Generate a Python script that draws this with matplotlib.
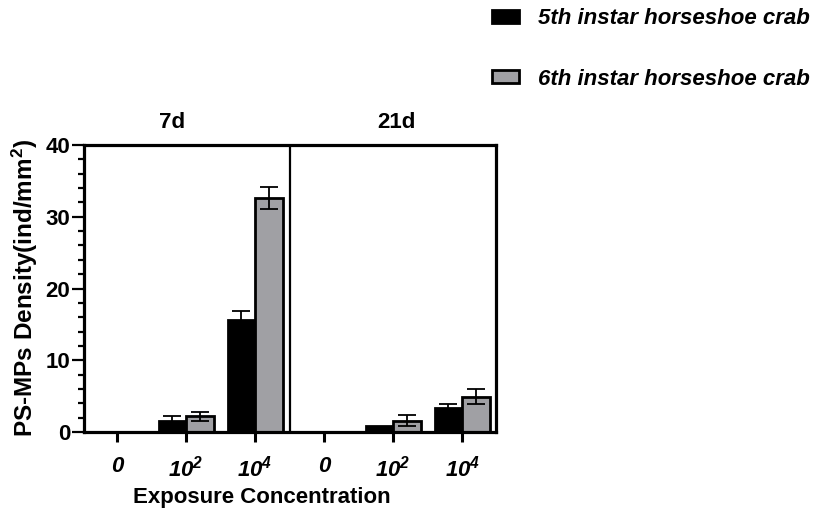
import matplotlib.pyplot as plt
import matplotlib.patches as mpatches
from matplotlib.ticker import MultipleLocator
import numpy as np

plt.rcParams['font.family'] = 'Liberation Sans'
plt.rcParams['mathtext.fontset'] = 'custom'
plt.rcParams['mathtext.rm'] = 'Liberation Sans:bold:italic'
plt.rcParams['mathtext.bf'] = 'Liberation Sans:bold'
plt.rcParams['mathtext.default'] = 'rm'

# data
days = ['7d', '21d']
conc_labels = ['0', r'$10^{2}$', r'$10^{4}$']
series_names = ['5th instar horseshoe crab', '6th instar horseshoe crab']
fifth_mean = [0, 1.6, 15.6, 0, 0.9, 3.3]
fifth_err = [0, 0.65, 1.2, 0, 0, 0.6]
sixth_mean = [0, 2.2, 32.6, 0, 1.6, 4.9]
sixth_err = [0, 0.65, 1.5, 0, 0.7, 1.05]

colors = ['#000000', '#a0a0a4']

fig = plt.figure(figsize=(8.27, 5.21), dpi=100)
ax = fig.add_axes([84 / 827, 1 - 432 / 521, 412 / 827, 287 / 521])

x = np.arange(len(fifth_mean))
w = 0.4
for i, (means, errs) in enumerate([(fifth_mean, fifth_err), (sixth_mean, sixth_err)]):
    xs = x + (i - 0.5) * w
    ax.bar(xs, means, width=w, color=colors[i], edgecolor='black', linewidth=2.0,
           zorder=2)
    errs = np.array(errs)
    mask = errs > 0
    ax.errorbar(xs[mask], np.array(means)[mask], yerr=errs[mask], fmt='none',
                ecolor='black', elinewidth=1.3, capsize=6.5, capthick=1.3, zorder=3)

ax.axvline(2.5, color='black', linewidth=1.6, zorder=1)

ax.set_xlim(-0.48, 5.49)
ax.set_ylim(0, 40)
ax.yaxis.set_major_locator(MultipleLocator(10))
ax.yaxis.set_minor_locator(MultipleLocator(2))
ax.set_xticks(x)
ax.set_xticklabels(conc_labels * 2, fontsize=16, fontweight='bold', fontstyle='italic')
for lab in ax.get_yticklabels():
    lab.set_fontsize(16)
    lab.set_fontweight('bold')
ax.tick_params(axis='y', which='major', length=9, width=1.6, pad=1)
ax.tick_params(axis='y', which='minor', length=4.5, width=1.6)
ax.tick_params(axis='x', which='major', length=7, width=2.2, pad=10)
for sp in ax.spines.values():
    sp.set_linewidth(2.3)

fig.text(25 / 827, 1 - 288 / 521, r'PS-MPs Density(ind/mm$^{\mathbf{2}}$)', rotation=90,
         ha='center', va='center', fontsize=17.5, fontweight='bold')

for xpos, d in zip([0.8, 4.05], days):
    ax.text(xpos, 43.2, d, ha='center', va='center', fontsize=16, fontweight='bold')

fig.text(262 / 827, 1 - 497 / 521, 'Exposure Concentration', ha='center', va='center',
         fontsize=16, fontweight='bold')

handles = [mpatches.Patch(facecolor=c, edgecolor='black', linewidth=2.0) for c in colors]
leg = fig.legend(handles, series_names, loc='upper left', bbox_to_anchor=(492 / 827, 1 - 8 / 521),
                 frameon=False, borderpad=0, borderaxespad=0, handlelength=1.2, handleheight=0.54,
                 handletextpad=0.86, labelspacing=1.78,
                 prop={'weight': 'bold', 'style': 'italic', 'size': 16})

fig.savefig('out.png', dpi=100)
